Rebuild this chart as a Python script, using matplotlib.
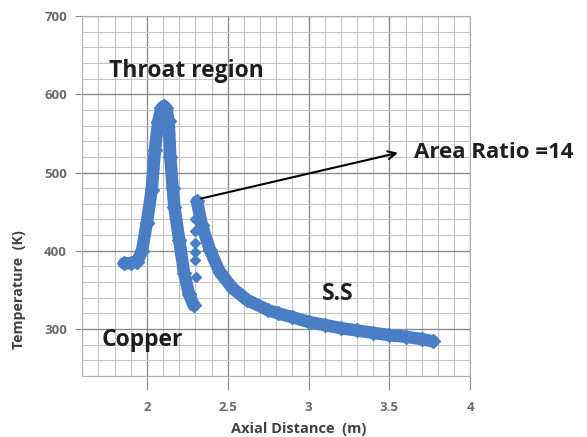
import matplotlib
matplotlib.use("Agg")
import matplotlib.pyplot as plt
from matplotlib.ticker import MultipleLocator

# copper wall temperature
cu_x = [1.86, 1.90, 1.94, 1.97, 2.00, 2.03, 2.05, 2.07, 2.09, 2.105,
        2.12, 2.135, 2.145, 2.16, 2.17, 2.20, 2.23, 2.26, 2.29]
cu_t = [384, 384, 386, 400, 436, 478, 529, 565, 582, 585,
        582, 566, 520, 480, 456, 414, 372, 345, 330]

# sparse points at the copper / S.S junction
jn_x = [2.295, 2.295, 2.30, 2.30, 2.30, 2.305]
jn_t = [440, 425, 410, 398, 388, 366]

# stainless steel wall temperature
ss_x = [2.31, 2.34, 2.39, 2.45, 2.53, 2.62, 2.75, 2.81, 2.90, 3.00,
        3.10, 3.20, 3.30, 3.40, 3.50, 3.60, 3.70, 3.77]
ss_t = [463, 433, 401, 373, 352, 337, 324, 320, 315, 309,
        305, 301, 298, 295, 292, 290, 287, 284]

x_ticks = [2, 2.5, 3, 3.5, 4]
y_ticks = [300, 400, 500, 600, 700]

blue = "#4a7ec4"
txt = "#1e1e1e"
plt.rcParams["font.family"] = ["Open Sans", "DejaVu Sans"]

fig = plt.figure(figsize=(5.87, 4.37), dpi=100)
ax = fig.add_axes([0.14, 0.14, 0.661, 0.823])

ax.plot(cu_x, cu_t, color=blue, lw=9, marker="D", ms=7,
        solid_capstyle="round", solid_joinstyle="round", zorder=3)
ax.plot(ss_x, ss_t, color=blue, lw=9, marker="D", ms=7,
        solid_capstyle="round", solid_joinstyle="round", zorder=3)
ax.plot(jn_x, jn_t, color=blue, lw=0, marker="D", ms=5.5, zorder=3)

ax.set_xlim(1.6, 4)
ax.set_ylim(240, 700)
ax.set_xticks(x_ticks)
ax.set_xticklabels(["2", "2.5", "3", "3.5", "4"])
ax.set_yticks(y_ticks)
ax.xaxis.set_minor_locator(MultipleLocator(0.1))
ax.yaxis.set_minor_locator(MultipleLocator(20))

ax.grid(which="major", color="#8c8c8c", lw=1.0)
ax.grid(which="minor", color="#c4c4c4", lw=0.8)
ax.set_axisbelow(True)
for s in ax.spines.values():
    s.set_color("#b0b0b0")
    s.set_linewidth(0.8)

ax.tick_params(axis="x", which="major", length=10, color="#8c8c8c",
               labelsize=9.5, labelcolor="#6a6a6a", pad=8)
ax.tick_params(axis="y", which="major", length=5, color="#8c8c8c",
               labelsize=9.5, labelcolor="#6a6a6a", pad=6)
ax.tick_params(which="minor", length=0)
for lab in ax.get_xticklabels() + ax.get_yticklabels():
    lab.set_fontweight("bold")

ax.set_xlabel("Axial Distance  (m)", fontsize=10.5, fontweight="bold", color="#404040")
ax.xaxis.set_label_coords(0.557, -0.128)
ax.set_ylabel("Temperature  (K)", fontsize=10.3, fontweight="bold", color="#404040")
ax.yaxis.set_label_coords(-0.145, 0.24)

ax.text(2.245, 630, "Throat region", fontsize=16.5, fontweight="bold",
        color=txt, ha="center", va="center")
ax.text(1.72, 286, "Copper", fontsize=16.5, fontweight="bold",
        color=txt, ha="left", va="center")
ax.text(3.18, 345, "S.S", fontsize=16.5, fontweight="bold",
        color=txt, ha="center", va="center")
ax.annotate("", xy=(3.57, 526), xytext=(2.32, 466),
            arrowprops=dict(arrowstyle="->", color="black", lw=1.5,
                            mutation_scale=14))
ax.text(3.65, 526, "Area Ratio =14", fontsize=16, fontweight="bold",
        color=txt, ha="left", va="center", clip_on=False)

fig.savefig("out.png", dpi=100)
